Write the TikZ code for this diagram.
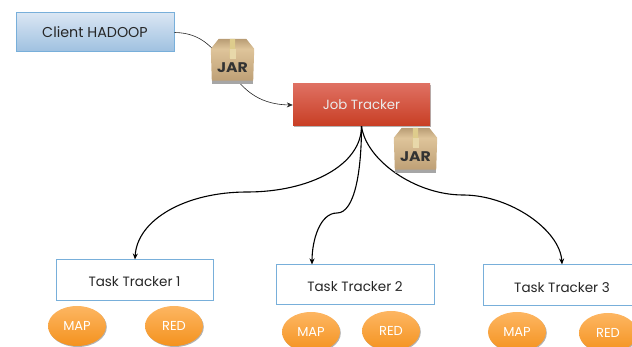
\documentclass[tikz,border=0pt]{standalone}
\usepackage{fontspec}
\setmainfont{Poppins}
\usetikzlibrary{arrows.meta,shadows,shapes.geometric}
\definecolor{boxblue}{RGB}{120,175,218}
\definecolor{boxlight}{RGB}{218,230,243}
\definecolor{boxdark}{RGB}{158,192,224}
\definecolor{redtop}{RGB}{223,112,98}
\definecolor{redbot}{RGB}{200,62,36}
\definecolor{orgtop}{RGB}{253,182,98}
\definecolor{orgbot}{RGB}{244,146,30}
\definecolor{jarlight}{RGB}{222,196,154}
\definecolor{jardark}{RGB}{190,160,118}
\definecolor{jartop}{RGB}{184,156,116}
\definecolor{tape}{RGB}{222,204,140}
\definecolor{tapelow}{RGB}{232,216,170}
\tikzset{
  every node/.style={font=\fontsize{13.5}{15}\selectfont},
  softshadow/.style={general shadow={shadow xshift=0.8pt,shadow yshift=-1pt,fill=black,opacity=0.3}},
  clientbox/.style={draw=boxblue,line width=1pt,top color=boxlight,bottom color=boxdark,text=black!85,minimum width=158pt,minimum height=39pt,inner sep=0pt,font=\fontsize{14.3}{16}\selectfont},
  jobbox/.style={softshadow,top color=redtop,bottom color=redbot,text=white!92!black,minimum width=137pt,minimum height=42pt,inner sep=0pt,font=\fontsize{13.3}{15}\selectfont},
  taskbox/.style={draw=boxblue,line width=1pt,fill=white,text=black!85,inner sep=0pt},
  taskellipse/.style={ellipse,softshadow,top color=orgtop,bottom color=orgbot,text=white,minimum width=58pt,minimum height=40pt,inner sep=0pt,font=\fontsize{13}{14}\selectfont},
  jarbody/.style={rectangle,minimum width=43pt,minimum height=44pt,inner sep=0pt},
  jarlabel/.style={text=black!80,font=\fontsize{14}{15}\bfseries\selectfont,inner sep=0pt,xscale=1.12,transform shape},
  flow/.style={draw=black!85,line width=0.6pt,-{Stealth[length=6pt,width=5pt]}},
  flowb/.style={draw=black,line width=1.1pt,-{Stealth[length=6pt,width=5pt]}},
}
\newcommand{\jarbox}[2]{%
  \node[jarbody] (#1) at (#2) {};
  \fill[black!35] ([shift={(1pt,-8pt)}]#1.north west) -- ([shift={(1pt,-1pt)}]#1.south west) -- ([shift={(-1pt,-1pt)}]#1.south east) -- ([shift={(-1pt,-8pt)}]#1.north east) -- cycle;
  \shade[top color=jartop,bottom color=jarlight] ([shift={(0pt,-10pt)}]#1.north west) -- ([shift={(8pt,0pt)}]#1.north west) -- ([shift={(-8pt,0pt)}]#1.north east) -- ([shift={(0pt,-10pt)}]#1.north east) -- cycle;
  \shade[top color=jarlight,bottom color=jardark] ([shift={(0pt,-10pt)}]#1.north west) -- ([shift={(1pt,2.5pt)}]#1.south west) -- ([shift={(-1pt,2.5pt)}]#1.south east) -- ([shift={(0pt,-10pt)}]#1.north east) -- cycle;
  \fill[tape] ([shift={(-2.5pt,0pt)}]#1.north) -- ([shift={(2.5pt,0pt)}]#1.north) -- ([shift={(3pt,-19pt)}]#1.north) -- ([shift={(-3pt,-19pt)}]#1.north) -- cycle;
  \fill[tapelow] ([shift={(-3pt,-10pt)}]#1.north) rectangle ([shift={(3pt,-20pt)}]#1.north);
  \node[jarlabel] at ([yshift=-7pt]#1.center) {JAR};
}
\begin{document}
\begin{tikzpicture}[x=1pt,y=-1pt]
\useasboundingbox (0,0) rectangle (632,347);
\clip (0,0) rectangle (632,347);
\node[clientbox] (client) at (95,32.5) {Client HADOOP};
\node[jobbox] (job) at (361.5,105) {Job Tracker};
\node[taskbox,minimum width=157pt,minimum height=41pt,text height=12pt] (tt1) at (134.5,280.5) {Task Tracker 1};
\node[taskbox,minimum width=158pt,minimum height=40pt,text height=13pt] (tt2) at (355,285) {Task Tracker 2};
\node[taskbox,minimum width=158pt,minimum height=41pt,text height=14pt] (tt3) at (562,285.5) {Task Tracker 3};
\node[taskellipse] (map1) at (77,326) {MAP};
\node[taskellipse] (red1) at (174,326) {RED};
\node[taskellipse] (map2) at (311,332) {MAP};
\node[taskellipse] (red2) at (391,331) {RED};
\node[taskellipse] (map3) at (517,332) {MAP};
\node[taskellipse] (red3) at (608,333) {RED};
\coordinate (m1) at (247,192);
\coordinate (m2) at (337,213);
\coordinate (m3) at (463,195);
\draw[flow] (client.east) .. controls (232,33) and (222,104) .. (job.west);
\draw[flowb] (job.south) .. controls (361.5,165) and (310,192) .. (m1) .. controls (185,192) and (137,220) .. ([xshift=0.5pt]tt1.north);
\draw[flowb] (job.south) .. controls (361.5,170) and (355,213) .. (m2) .. controls (320,213) and (312,240) .. ([xshift=-43pt]tt2.north);
\draw[flowb] (job.south) .. controls (366,160) and (415,195) .. (m3) .. controls (510,195) and (560,230) .. (tt3.north);
\jarbox{jar1}{232.5,61}
\jarbox{jar2}{415.5,150}
\end{tikzpicture}
\end{document}
